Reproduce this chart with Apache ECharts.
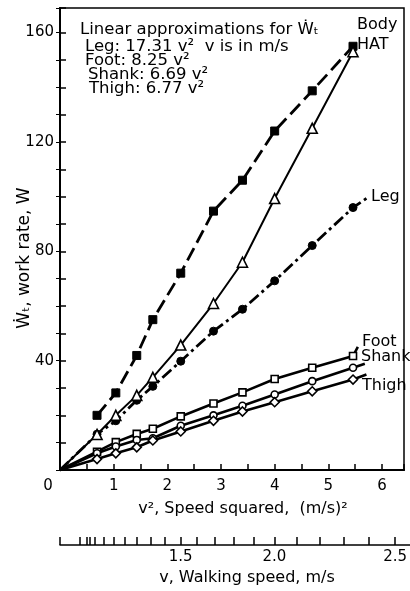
<!DOCTYPE html>
<html><head><meta charset="utf-8">
<script src="https://cdn.jsdelivr.net/npm/echarts@6/dist/echarts.min.js"></script>
<style>html,body{margin:0;padding:0;background:#fff}#c{width:410px;height:591px}</style>
</head><body><div id="c"></div>
<script>
// ---- data ----
const speedSq = [0.69, 1.04, 1.43, 1.73, 2.25, 2.86, 3.40, 4.00, 4.70, 5.46];
const bodyW  = [20, 28.2, 41.9, 55, 72, 94.7, 106, 124, 138.7, 155];
const hatW   = [13, 20, 27.3, 33.9, 45.7, 60.9, 76, 99.3, 125, 153];
const legW   = [13.1, 18, 25.5, 30.6, 39.8, 50.8, 58.8, 69.2, 82.1, 96];
const footW  = [6.7, 10.2, 13.2, 15.1, 19.6, 24.3, 28.4, 33.3, 37.4, 41.7];
const shankW = [6.1, 8.6, 11, 11.6, 16.2, 20, 23.5, 27.6, 32.5, 37.4];
const thighW = [4, 6.1, 8.3, 10.8, 14.1, 18, 21.4, 24.8, 28.8, 33.1];
// line ends drawn past the last marker (toward the labels)
const legEnd   = [5.72, 99.5];
const footEnd  = [5.55, 45];
const shankEnd = [5.68, 38.9];
const thighEnd = [5.71, 34.9];
const origin = [0, 0];
// axes
const xTickLabels = [0, 1, 2, 3, 4, 5, 6];
const yTickLabels = [40, 80, 120, 160];
const vTicks = [0, 0.6, 0.7, 0.75, 0.8, 0.9, 1.0, 1.1, 1.2, 1.3, 1.4, 1.5, 1.6, 1.7, 1.8, 1.9, 2.0, 2.1, 2.2, 2.3, 2.4, 2.5];
const vTickLabels = [1.5, 2.0, 2.5];
const approxLines = [
  'Linear approximations for Ẇₜ',
  'Leg: 17.31 v²  v is in m/s',
  'Foot: 8.25 v²',
  'Shank: 6.69 v²',
  'Thigh: 6.77 v²'
];

// ---- layout ----
const GL = 60, GR = 6, GT = 8, GB = 121;
const XMAX = 6.41, YMAX = 169;
const chartW = 410;
const X2MAX = XMAX * (chartW - GL) / (chartW - GL - GR);
const FONT = 'DejaVu Sans';

function pts(vals, start, end) {
  const d = vals.map((v, i) => [speedSq[i], v]);
  if (start) d.unshift({ value: start, symbol: 'none' });
  if (end) d.push({ value: end, symbol: 'none' });
  return d;
}
function mk(name, data, symbol, size, filled, lineType, width) {
  return {
    name, type: 'line', data, symbol, symbolSize: size,
    xAxisIndex: 0, yAxisIndex: 0, clip: false,
    lineStyle: { color: '#000', width, type: lineType },
    itemStyle: filled ? { color: '#000', borderColor: '#000', borderWidth: 1 }
                      : { color: '#fff', borderColor: '#000', borderWidth: 1.6 },
    z: filled ? 3 : 4
  };
}
function label(text, x, y, size) {
  return { type: 'text', x, y, style: { text, font: `${size}px "${FONT}"`, fill: '#000', verticalAlign: 'middle' } };
}

const chart = echarts.init(document.getElementById('c'), null, { renderer: 'canvas' });
const txt = { fontFamily: FONT, color: '#000' };
chart.setOption({
  animation: false,
  backgroundColor: '#fff',
  grid: [
    { left: GL, right: GR, top: GT, bottom: GB, show: true, borderColor: '#000', borderWidth: 1.5 },
    { left: GL, right: 0, top: 539, height: 6 }
  ],
  xAxis: [
    { type: 'value', gridIndex: 0, min: 0, max: XMAX, interval: 0.5, position: 'bottom',
      axisLine: { lineStyle: { color: '#000', width: 2 } },
      axisTick: { inside: true, length: 6, lineStyle: { color: '#000', width: 1.5 } },
      splitLine: { show: false },
      axisLabel: { ...txt, fontSize: 15, margin: 9,
        formatter: v => v === 0 ? '{z|0}' : (xTickLabels.includes(v) ? String(v) : ''),
        rich: { z: { ...txt, fontSize: 15, padding: [0, 24, 0, 0] } } } },
    { type: 'value', gridIndex: 0, min: 0, max: XMAX, position: 'top',
      axisLine: { lineStyle: { color: '#000', width: 1.5 } },
      axisTick: { show: false }, axisLabel: { show: false }, splitLine: { show: false } },
    { type: 'value', gridIndex: 1, min: 0, max: X2MAX, position: 'bottom',
      axisLine: { lineStyle: { color: '#000', width: 1.5 } },
      axisTick: { inside: true, length: 8, lineStyle: { color: '#000', width: 1.5 },
        customValues: vTicks.map(v => v * v) },
      axisLabel: { ...txt, fontSize: 15, margin: 5,
        customValues: vTickLabels.map(v => v * v),
        formatter: v => Math.sqrt(v).toFixed(1) },
      splitLine: { show: false } }
  ],
  yAxis: [
    { type: 'value', gridIndex: 0, min: 0, max: YMAX, interval: 10, position: 'left',
      axisLine: { show: true, lineStyle: { color: '#000', width: 2 } },
      axisTick: { show: true, inside: true, length: 6, lineStyle: { color: '#000', width: 1.5 } },
      splitLine: { show: false },
      axisLabel: { ...txt, fontSize: 15, margin: 6,
        formatter: v => yTickLabels.includes(v) ? String(v) : '' } },
    { type: 'value', gridIndex: 0, min: 0, max: YMAX, interval: 10, position: 'right',
      axisLine: { show: true, lineStyle: { color: '#000', width: 1.5 } },
      axisTick: { show: true, inside: true, length: 4, lineStyle: { color: '#000', width: 1 } },
      splitLine: { show: false }, axisLabel: { show: false } },
    { type: 'value', gridIndex: 1, show: false }
  ],
  series: [
    mk('Body', pts(bodyW), 'rect', 8, true, [14, 6], 2.8),
    mk('HAT', pts(hatW, origin), 'triangle', 10, false, 'solid', 2),
    mk('Leg', pts(legW, origin, legEnd), 'circle', 8, true, [12, 4, 3, 4], 2.8),
    mk('Foot', pts(footW, origin, footEnd), 'rect', 7, false, 'solid', 2.6),
    mk('Shank', pts(shankW, origin, shankEnd), 'circle', 7, false, 'solid', 2.6),
    mk('Thigh', pts(thighW, origin, thighEnd), 'diamond', 9, false, 'solid', 2.6)
  ],
  graphic: [
    label(approxLines[0], 80, 30, 16.5),
    label(approxLines[1], 85, 47, 16.5),
    label(approxLines[2], 85, 61, 16.5),
    label(approxLines[3], 88, 75, 16.5),
    label(approxLines[4], 89, 89, 16.5),
    label('Body', 357, 25, 16),
    label('HAT', 357, 45, 16),
    label('Leg', 371, 197, 16),
    label('Foot', 362, 342, 16),
    label('Shank', 361, 357, 16),
    label('Thigh', 362, 386, 16),
    { type: 'text', x: 25, y: 258, rotation: Math.PI / 2,
      style: { text: 'Ẇₜ, work rate, W', font: `17px "${FONT}"`, fill: '#000', align: 'center', verticalAlign: 'middle' } },
    { type: 'text', x: 243, y: 509,
      style: { text: 'v², Speed squared,  (m/s)²', font: `16px "${FONT}"`, fill: '#000', align: 'center', verticalAlign: 'middle' } },
    { type: 'text', x: 247, y: 578,
      style: { text: 'v, Walking speed, m/s', font: `16px "${FONT}"`, fill: '#000', align: 'center', verticalAlign: 'middle' } }
  ]
});
</script>
</body></html>
